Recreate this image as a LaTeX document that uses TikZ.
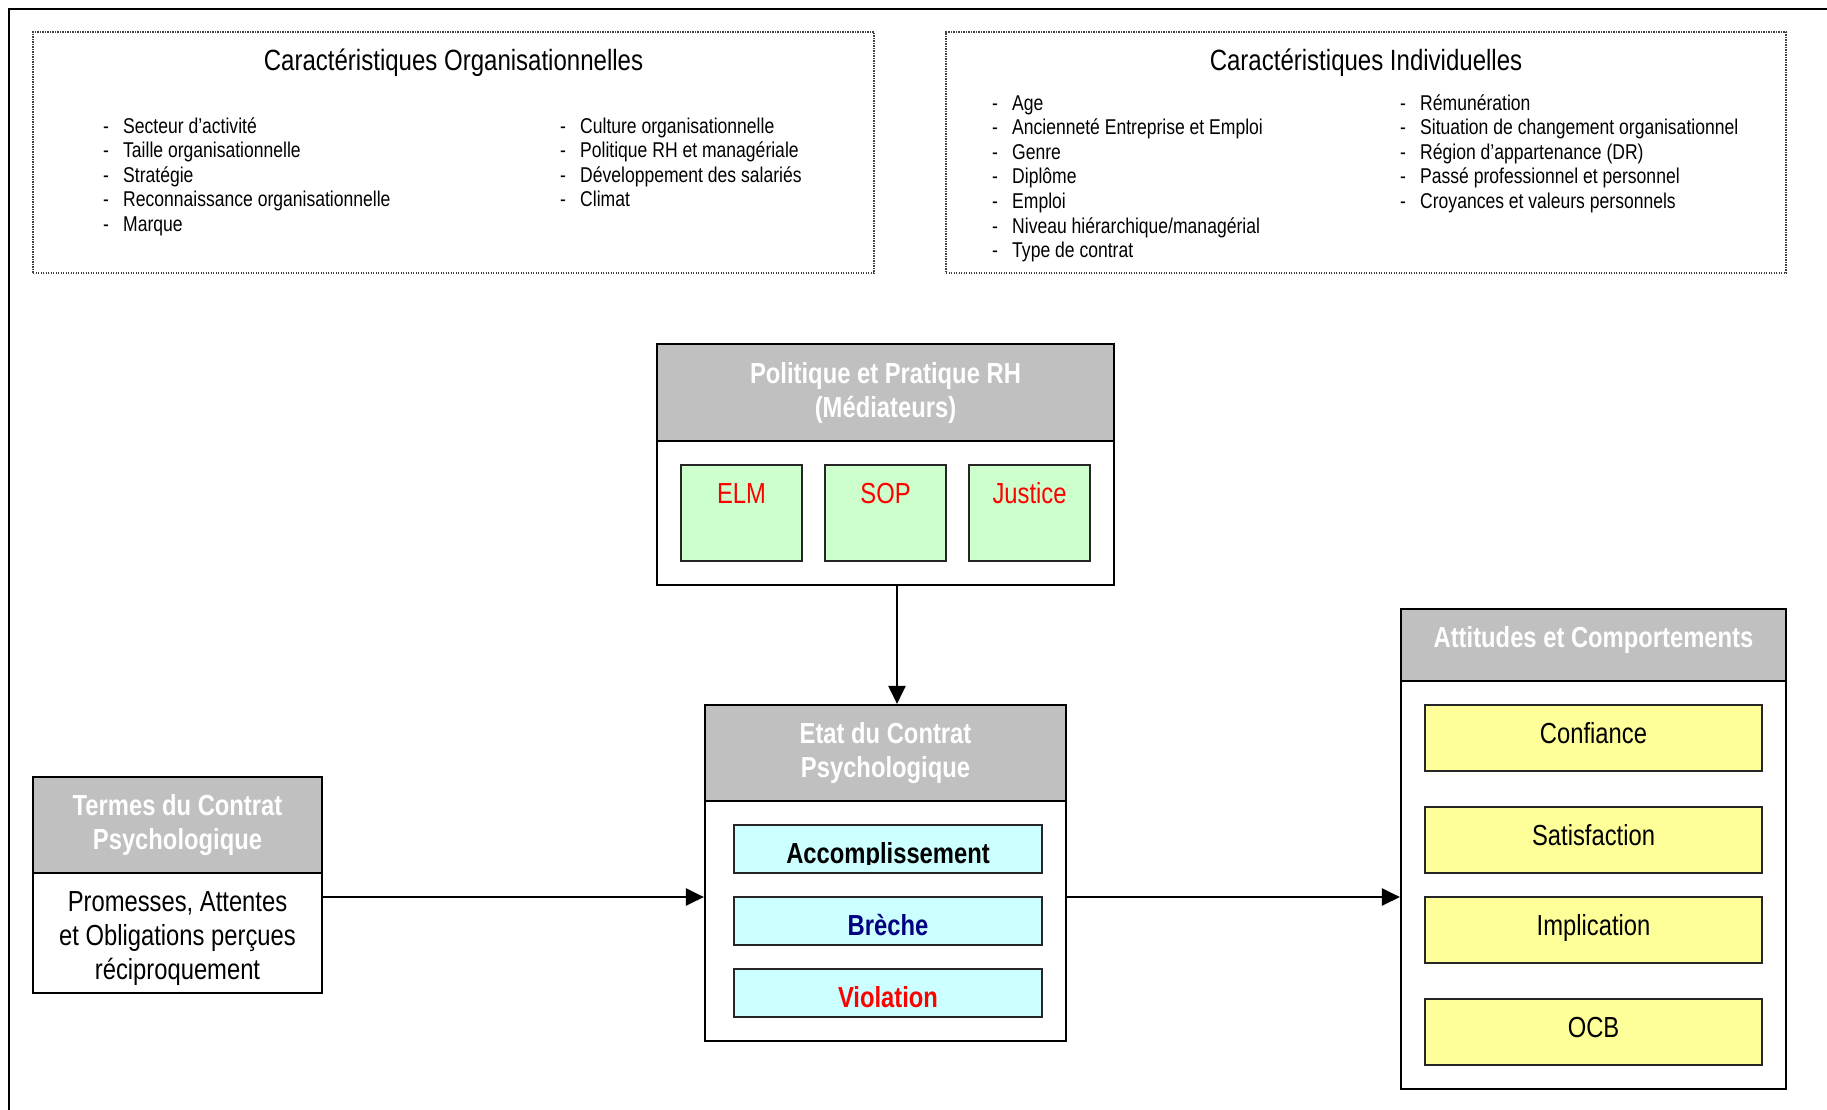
\documentclass[tikz,border=0pt]{standalone}
\usepackage{fontspec}
\newfontfamily\nar{Liberation Sans}[FakeStretch=0.82]
\usetikzlibrary{arrows.meta}
\definecolor{hdrgray}{HTML}{C0C0C0}
\definecolor{lgreen}{HTML}{CCFFCC}
\definecolor{lcyan}{HTML}{CCFFFF}
\definecolor{lyellow}{HTML}{FFFF99}
\definecolor{navyblue}{HTML}{000080}
\begin{document}
\begin{tikzpicture}[x=1pt,y=-1pt,
  frame/.style={line width=2.5pt, draw=black},
  dotbox/.style={draw=black!75, line width=1.2pt, dash pattern=on 1.2pt off 1.3pt, inner sep=0},
  ttl/.style={anchor=base, inner sep=0, font=\nar\fontsize{29.3}{34}\selectfont},
  item/.style={anchor=base west, inner sep=0, font=\nar\fontsize{21.4}{25}\selectfont},
  hdr/.style={draw=black, line width=2.2pt, fill=hdrgray, text=white, font=\nar\bfseries\fontsize{29}{34}\selectfont, align=center, inner sep=0},
  bodybox/.style={draw=black, line width=2.2pt, fill=white, inner sep=0},
  btext/.style={inner sep=0, align=center, font=\nar\fontsize{29}{34}\selectfont},
  gbox/.style={draw=black!85, line width=2pt, fill=lgreen, text=red, font=\nar\fontsize{29}{34}\selectfont, inner sep=0, anchor=base, minimum width=121pt, text height=38pt, text depth=58pt},
  cbox/.style={draw=black!85, line width=2pt, fill=lcyan, minimum width=308pt, inner sep=0, anchor=base, text height=38pt, text depth=10pt, font=\nar\bfseries\fontsize{29}{34}\selectfont},
  ctext/.style={anchor=base, inner sep=0, font=\nar\bfseries\fontsize{29}{34}\selectfont},
  ybox/.style={draw=black!85, line width=2pt, fill=lyellow, minimum width=337pt, inner sep=0, anchor=base, text height=38.5pt, text depth=27.5pt, font=\nar\fontsize{29}{34}\selectfont},
  arr/.style={line width=2.5pt, -{Triangle[length=18pt,width=17pt]}}
]
\useasboundingbox (0,0) rectangle (1827,1110);
\draw[frame] (9,1125) -- (9,9) -- (1840,9);

% top dotted boxes
\node[dotbox, minimum width=841pt, minimum height=241pt] (orgbox) at (453.5,152.5) {};
\node[dotbox, minimum width=840pt, minimum height=241pt] (indbox) at (1366,152.5) {};
\node[ttl] (orgt) at (453.5,71) {Caractéristiques Organisationnelles};
\node[ttl] (indt) at (1366,71) {Caractéristiques Individuelles};

\foreach \t [count=\i] in {Secteur d’activité, Taille organisationnelle, Stratégie, Reconnaissance organisationnelle, Marque}
  \node[item] (oa\i) at (103,{133.5+24.5*(\i-1)}) {\makebox[20pt][l]{-}\t};
\foreach \t [count=\i] in {Culture organisationnelle, Politique RH et managériale, Développement des salariés, Climat}
  \node[item] (ob\i) at (560,{133.5+24.5*(\i-1)}) {\makebox[20pt][l]{-}\t};
\foreach \t [count=\i] in {Age, Ancienneté Entreprise et Emploi, Genre, Diplôme, Emploi, Niveau hiérarchique/managérial, Type de contrat}
  \node[item] (ia\i) at (992,{110.5+24.5*(\i-1)}) {\makebox[20pt][l]{-}\t};
\foreach \t [count=\i] in {Rémunération, Situation de changement organisationnel, Région d’appartenance (DR), Passé professionnel et personnel, Croyances et valeurs personnels}
  \node[item] (ib\i) at (1400,{110.5+24.5*(\i-1)}) {\makebox[20pt][l]{-}\t};

% Politique et Pratique RH
\node[bodybox, minimum width=457pt, minimum height=144pt] (polb) at (885.5,513) {};
\node[hdr, minimum width=457pt, minimum height=97pt] (polh) at (885.5,392.5) {Politique et Pratique RH\\(Médiateurs)};
\node[gbox] (elm) at (741.5,503) {ELM};
\node[gbox] (sop) at (885.5,503) {SOP};
\node[gbox] (jus) at (1029.5,503) {Justice};

% Etat du Contrat Psychologique
\node[bodybox, minimum width=361pt, minimum height=240pt] (etatb) at (885.5,921) {};
\node[hdr, minimum width=361pt, minimum height=96pt] (etath) at (885.5,753) {Etat du Contrat\\Psychologique};
\node[cbox] (acc) at (888,863) {};
\begin{scope}
  \clip (734,825) rectangle (1042,864);
  \node[ctext] (acct) at (888,863) {Accomplissement};
\end{scope}
\node[cbox, text=navyblue] (bre) at (888,935) {Brèche};
\node[cbox, text=red] (vio) at (888,1007) {Violation};

% Termes du Contrat Psychologique
\node[bodybox, minimum width=289pt, minimum height=120pt] (termb) at (177.5,933) {};
\node[btext] (termt) at (177.5,939) {Promesses, Attentes\\et Obligations perçues\\réciproquement};
\node[hdr, minimum width=289pt, minimum height=96pt] (termh) at (177.5,825) {Termes du Contrat\\Psychologique};

% Attitudes et Comportements
\node[bodybox, minimum width=385pt, minimum height=408pt] (attb) at (1593.5,885) {};
\node[hdr, anchor=base, minimum width=385pt, text height=38pt, text depth=34pt] (atth) at (1593.5,647) {Attitudes et Comportements};
\node[ybox] (conf) at (1593.5,743.5) {Confiance};
\node[ybox] (sat) at (1593.5,845.5) {Satisfaction};
\node[ybox] (imp) at (1593.5,935.5) {Implication};
\node[ybox] (ocb) at (1593.5,1037.5) {OCB};

% connectors
\coordinate (ax) at (897,0);
\coordinate (ay) at (0,897);
\draw[arr] (polb.south -| ax) -- (etath.north -| ax);
\draw[arr] (termb.east |- ay) -- (etatb.west |- ay);
\draw[arr] (etatb.east |- ay) -- (attb.west |- ay);
\end{tikzpicture}
\end{document}
